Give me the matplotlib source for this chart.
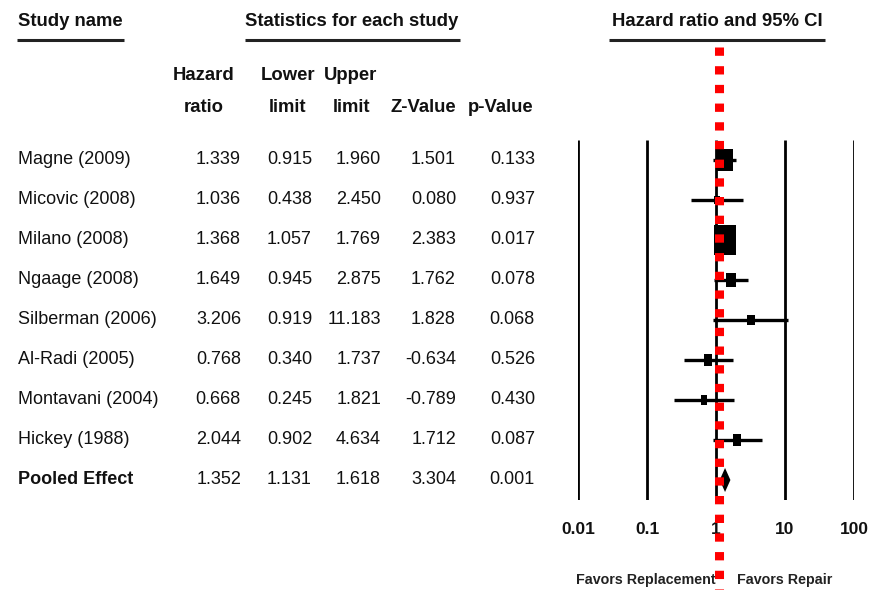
import matplotlib
matplotlib.use("Agg")
import matplotlib.pyplot as plt
from matplotlib.path import Path
import numpy as np

# ---------------- data ----------------
studies = ["Magne (2009)", "Micovic (2008)", "Milano (2008)", "Ngaage (2008)",
           "Silberman (2006)", "Al-Radi (2005)", "Montavani (2004)", "Hickey (1988)"]
hazard_ratio = [1.339, 1.036, 1.368, 1.649, 3.206, 0.768, 0.668, 2.044]
lower_limit = [0.915, 0.438, 1.057, 0.945, 0.919, 0.340, 0.245, 0.902]
upper_limit = [1.960, 2.450, 1.769, 2.875, 11.183, 1.737, 1.821, 4.634]
z_value = [1.501, 0.080, 2.383, 1.762, 1.828, -0.634, -0.789, 1.712]
p_value = [0.133, 0.937, 0.017, 0.078, 0.068, 0.526, 0.430, 0.087]
weights = [23.1, 2.6, 43.5, 9.1, 5.0, 7.0, 4.1, 5.7]  # relative weight (%)

pooled_name = "Pooled Effect"
pooled_hr, pooled_lo, pooled_hi, pooled_z, pooled_p = 1.352, 1.131, 1.618, 3.304, 0.001

tick_values = [0.01, 0.1, 1, 10, 100]
tick_labels = ["0.01", "0.1", "1", "10", "100"]
ref_value = 1.11
left_label = "Favors Replacement"
right_label = "Favors Repair"

# ---------------- figure ----------------
W, H = 893, 590
fig = plt.figure(figsize=(W / 100, H / 100), dpi=100)
FONT = ["Liberation Sans", "DejaVu Sans"]
plt.rcParams['font.family'] = FONT

bg = fig.add_axes([0, 0, 1, 1])
bg.set_xlim(0, W)
bg.set_ylim(H, 0)
bg.axis("off")

# forest axes: x from 578px (0.01) to 854px (100), y from 140px to 500px
x0, x1 = 578, 854
y0, y1 = 140, 500
ax = fig.add_axes([x0 / W, 1 - y1 / H, (x1 - x0) / W, (y1 - y0) / H])
ax.set_xscale("log")
ax.set_xlim(0.01, 100)
ax.set_ylim(8.5, -0.5)
ax.axis("off")

# headers
hdr_kw = dict(fontsize=13.3, fontweight="bold", va="center", color="#111111")
bg.text(18, 21, "Study name", ha="left", **hdr_kw)
bg.plot([17, 124], [40, 40], color="#222222", lw=2.2, solid_capstyle="butt")
bg.text(352, 21, "Statistics for each study", ha="center", **hdr_kw)
bg.plot([245, 460], [40, 40], color="#222222", lw=2.2, solid_capstyle="butt")
bg.text(717, 21, "Hazard ratio and 95% CI", ha="center", **hdr_kw)
bg.plot([609, 825], [40, 40], color="#222222", lw=2.2, solid_capstyle="butt")

col_right = [241, 312, 381, 456, 535]
col_center = [204, 288, 351, 423, 501]
sub_top = ["Hazard", "Lower", "Upper", "", ""]
sub_bot = ["ratio", "limit", "limit", "Z-Value", "p-Value"]
for cx, t, b in zip(col_center, sub_top, sub_bot):
    if t:
        bg.text(cx, 76, t, ha="center", **hdr_kw)
    bg.text(cx, 107, b, ha="center", **hdr_kw)

# rows
row_y = lambda i: 160 + 40 * i
val_kw = dict(fontsize=13, va="center", color="#111111")
for i, name in enumerate(studies):
    y = row_y(i)
    bg.text(18, y, name, ha="left", **val_kw)
    vals = [hazard_ratio[i], lower_limit[i], upper_limit[i], z_value[i], p_value[i]]
    for cx, v in zip(col_right, vals):
        bg.text(cx, y, f"{v:.3f}", ha="right", **val_kw)

yp = row_y(len(studies))
bg.text(18, yp, pooled_name, ha="left", fontweight="bold", **val_kw)
for cx, v in zip(col_right, [pooled_hr, pooled_lo, pooled_hi, pooled_z, pooled_p]):
    bg.text(cx, yp, f"{v:.3f}", ha="right", **val_kw)

# vertical decade lines
for tv in tick_values:
    ax.plot([tv, tv], [-0.5, 8.5], color="black", lw=2.0, solid_capstyle="butt")

# tick labels
for tv, tl in zip(tick_values, tick_labels):
    ax.text(tv, 9.25, tl, ha="center", va="center", fontsize=12.5, fontweight="bold",
            color="#111111", clip_on=False)

# CI lines and weighted markers
rect = Path([(-0.36, -0.5), (0.36, -0.5), (0.36, 0.5), (-0.36, 0.5), (-0.36, -0.5)],
            [Path.MOVETO, Path.LINETO, Path.LINETO, Path.LINETO, Path.CLOSEPOLY])
for i in range(len(studies)):
    ax.plot([lower_limit[i], upper_limit[i]], [i, i], color="black", lw=2.4,
            solid_capstyle="butt", clip_on=False)
    h_px = np.sqrt(weights[i] * 21.5)
    ax.plot([hazard_ratio[i]], [i], marker=rect, markersize=h_px * 0.72,
            color="black", markeredgewidth=0, linestyle="none", clip_on=False)

# pooled diamond
n = len(studies)
ax.fill([pooled_lo, pooled_hr, pooled_hi, pooled_hr], [n, n - 0.3, n, n + 0.3],
        color="black", lw=0, clip_on=False)

# red reference dotted line
ax.plot([ref_value, ref_value], [(47 - 160) / 40, (595 - 160) / 40], color="#ff0000",
        lw=6.5, linestyle=(0, (0.92, 1.15)), solid_capstyle="butt",
        dash_capstyle="butt", clip_on=False, zorder=5)

# favors labels
fav_kw = dict(fontsize=10.3, fontweight="bold", va="center", color="#222222")
bg.text(716, 580, left_label, ha="right", **fav_kw)
bg.text(737, 580, right_label, ha="left", **fav_kw)

fig.savefig("out.png", dpi=100, facecolor="white")
